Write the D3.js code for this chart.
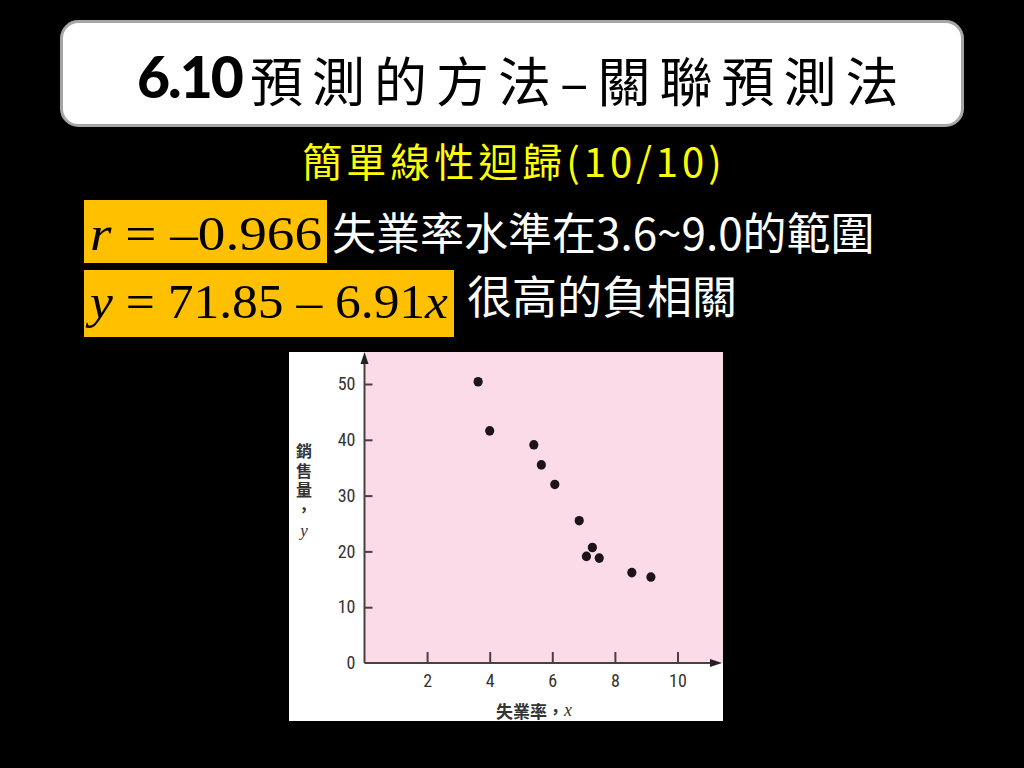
<!DOCTYPE html>
<html><head><meta charset="utf-8">
<script src="https://cdn.jsdelivr.net/npm/d3@7"></script>
<style>html,body{margin:0;padding:0;background:#000;}svg{display:block;}</style>
</head><body>
<svg id="c" width="1024" height="768"></svg>
<script>
// Data
const unemployment = [3.63, 4.0, 5.41, 5.65, 6.08, 6.86, 7.28, 7.09, 7.50, 8.54, 9.15];
const sales =        [50.4, 41.6, 39.1, 35.5, 32.0, 25.5, 20.7, 19.1, 18.8, 16.2, 15.4];
const xTicks = [2, 4, 6, 8, 10];
const yTicks = [0, 10, 20, 30, 40, 50];
const titleNum = "6.10";
const titleText = "預測的方法–關聯預測法";
const subtitle = "簡單線性迴歸(10/10)";
const rText = "r = –0.966";
const eqText = "y = 71.85 – 6.91x";
const note1 = "失業率水準在3.6~9.0的範圍";
const note2 = "很高的負相關";
const yTitle = "銷售量，";
const yVar = "y";
const xTitle = "失業率，";
const xVar = "x";

const svg = d3.select("#c");
const CJK = "'Noto Sans CJK TC','Noto Sans CJK SC',sans-serif";
const SERIF = "'Liberation Serif','DejaVu Serif',serif";

// Title box
svg.append("rect").attr("x",61.5).attr("y",21.5).attr("width",901).attr("height",104)
  .attr("rx",17).attr("fill","#fff").attr("stroke","#a6a6a6").attr("stroke-width",3);
svg.append("text").attr("x",137).attr("y",98).attr("font-family","Lato,'DejaVu Sans',sans-serif")
  .attr("font-weight",900).attr("font-size",57).attr("letter-spacing",-2).attr("fill","#000").text(titleNum);
svg.append("text").attr("x",250).attr("y",79).attr("dominant-baseline","central")
  .attr("font-family",CJK).attr("font-size",53).attr("letter-spacing",9).attr("fill","#000").text(titleText);

// Subtitle
svg.append("text").attr("x",514).attr("y",160).attr("text-anchor","middle").attr("dominant-baseline","central")
  .attr("font-family",CJK).attr("font-size",40).attr("letter-spacing",4).attr("fill","#ffff00").text(subtitle);

// Orange boxes
svg.append("rect").attr("x",84).attr("y",200).attr("width",243).attr("height",63).attr("fill","#ffc000");
svg.append("rect").attr("x",84).attr("y",270).attr("width",370).attr("height",67).attr("fill","#ffc000");

function mathText(x, y, str, width) {
  const t = svg.append("text").attr("x",x).attr("y",y).attr("font-family",SERIF)
    .attr("font-size",48).attr("fill","#000");
  const parts = str.split(/([a-z])/).filter(s=>s.length);
  parts.forEach(p=>{
    t.append("tspan").attr("font-style", /^[a-z]$/.test(p) ? "italic" : "normal").text(p);
  });
  t.attr("textLength",width).attr("lengthAdjust","spacingAndGlyphs");
}
mathText(90, 250, rText, 232);
mathText(90, 318, eqText, 358);

// White notes
svg.append("text").attr("x",332).attr("y",231).attr("dominant-baseline","central")
  .attr("font-family",CJK).attr("font-size",44).attr("fill","#fff").text(note1);
svg.append("text").attr("x",467).attr("y",294).attr("dominant-baseline","central")
  .attr("font-family",CJK).attr("font-size",45).attr("fill","#fff").text(note2);

// Chart image
svg.append("rect").attr("x",289).attr("y",352).attr("width",434).attr("height",369).attr("fill","#fff");
const x = d3.scaleLinear().domain([0,10]).range([364.5,677.5]);
const y = d3.scaleLinear().domain([0,50]).range([663,384]);
svg.append("rect").attr("x",x(0)).attr("y",352).attr("width",723-x(0)).attr("height",y(0)-352).attr("fill","#fadbe7");

const axisColor = "#4a4040";
const tickFont = "'Liberation Sans Narrow','Roboto Condensed','Liberation Sans',Arial,sans-serif";

// Y axis
const gy = svg.append("g").attr("transform",`translate(${x(0)},0)`)
  .call(d3.axisRight(y).tickValues(yTicks).tickSize(8).tickFormat(d3.format("d")));
gy.select(".domain").remove();
gy.selectAll(".tick line").attr("stroke",axisColor).attr("stroke-width",2).filter(d=>d===0).remove();
gy.selectAll(".tick text").attr("x",-9).attr("text-anchor","end").attr("font-family",tickFont)
  .attr("font-size",18).attr("fill","#333");
svg.append("line").attr("x1",x(0)).attr("x2",x(0)).attr("y1",y(0)).attr("y2",360).attr("stroke",axisColor).attr("stroke-width",2);
svg.append("path").attr("d",`M${x(0)},352 L${x(0)-4},364 L${x(0)+4},364 Z`).attr("fill","#222");

// X axis
const gx = svg.append("g").attr("transform",`translate(0,${y(0)})`)
  .call(d3.axisTop(x).tickValues(xTicks).tickSize(11));
gx.select(".domain").remove();
gx.selectAll(".tick line").attr("stroke",axisColor).attr("stroke-width",2);
gx.selectAll(".tick text").attr("y",18).attr("dy","0.35em").attr("font-family",tickFont)
  .attr("font-size",18).attr("fill","#333");
svg.append("line").attr("x1",x(0)).attr("x2",714).attr("y1",y(0)).attr("y2",y(0)).attr("stroke",axisColor).attr("stroke-width",2);
svg.append("path").attr("d",`M722,${y(0)} L710,${y(0)-4} L710,${y(0)+4} Z`).attr("fill","#222");

// Points
svg.append("g").selectAll("ellipse").data(unemployment.map((u,i)=>[u,sales[i]])).join("ellipse")
  .attr("cx",d=>x(d[0])).attr("cy",d=>y(d[1])).attr("rx",4.6).attr("ry",4.8).attr("fill","#1c1416");

// Y axis title: one vertical text
const yt = svg.append("text").attr("x",304).attr("y",443)
  .style("writing-mode","vertical-rl").style("text-orientation","upright")
  .attr("letter-spacing",3.5).attr("fill","#333");
yt.append("tspan").attr("font-family",CJK).attr("font-weight",700).attr("font-size",16).text(yTitle);
yt.append("tspan").attr("font-family",SERIF).attr("font-style","italic").attr("font-size",17).text(yVar);

const xt = svg.append("text").attr("x",534).attr("y",710).attr("text-anchor","middle").attr("dominant-baseline","central")
  .attr("fill","#333");
xt.append("tspan").attr("font-family",CJK).attr("font-weight",700).attr("font-size",17).text(xTitle);
xt.append("tspan").attr("font-family",SERIF).attr("font-style","italic").attr("font-size",18).text(xVar);
</script>
</body></html>
